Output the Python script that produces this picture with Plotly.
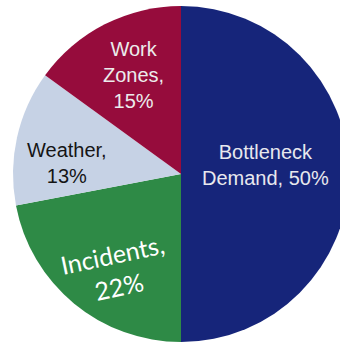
import plotly.graph_objects as go

labels = ["Bottleneck Demand", "Incidents", "Weather", "Work Zones"]
values = [50, 22, 13, 15]
colors = ["#16257a", "#2e8a46", "#c6d2e5", "#960c3c"]
text_lines = [["Bottleneck", "Demand, 50%"], ["Incidents,", "22%"], ["Weather,", "13%"], ["Work", "Zones,", "15%"]]

W, H = 350, 344
CX, CY, R = 181, 174, 168
fig = go.Figure(go.Pie(
    labels=labels, values=values, sort=False, direction="clockwise", rotation=0,
    marker=dict(colors=colors, line=dict(width=0)),
    textinfo="none", hoverinfo="label+percent", showlegend=False,
    domain=dict(x=[(CX - R) / W, (CX + R) / W], y=[1 - (CY + R) / H, 1 - (CY - R) / H]),
))

label_pos = [(265, 165), (115, 270), (67, 163), (133, 75)]
label_font = [
    dict(family="Liberation Sans, Arial", size=20, color="#e8e8ee"),
    dict(family="Lato", size=25, color="#ffffff"),
    dict(family="Liberation Sans, Arial", size=20, color="#151515"),
    dict(family="Liberation Sans, Arial", size=20, color="#ececec"),
]
angles = [0, -12, 0, 0]
for (px, py), lines, f, a in zip(label_pos, text_lines, label_font, angles):
    fig.add_annotation(x=px / W, y=1 - py / H, xref="paper", yref="paper",
                       text="<br>".join(lines), showarrow=False, font=f,
                       textangle=a, align="center", xanchor="center", yanchor="middle")

fig.update_layout(width=W, height=H, margin=dict(l=0, r=0, t=0, b=0),
                  paper_bgcolor="white", plot_bgcolor="white")
fig.write_html("out.html")
